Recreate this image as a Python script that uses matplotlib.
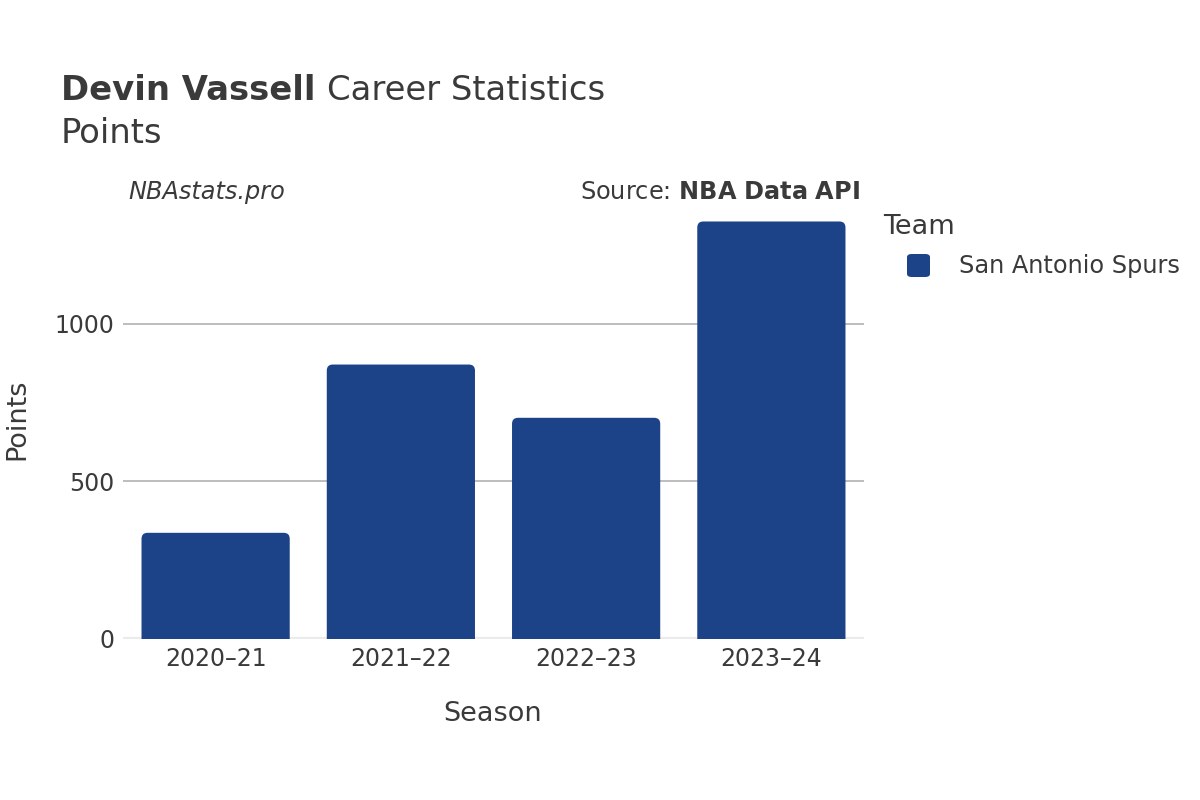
import matplotlib.pyplot as plt
from matplotlib.patches import FancyBboxPatch

plt.rcParams['font.family'] = ['DejaVu Sans']

# data
seasons = ["2020–21", "2021–22", "2022–23", "2023–24"]
points = [337, 871, 702, 1325]
team = "San Antonio Spurs"
bar_color = "#1c4288"
txt = "#3a3a3a"

W, H = 1200, 800
fig = plt.figure(figsize=(12, 8), dpi=100)
ax = fig.add_axes([123 / W, 1 - 639 / H, 741 / W, 438 / H])

bars = ax.bar(range(len(seasons)), points, width=0.8, color=bar_color)

# swap plain bars for ones with rounded tops
ymax = 1390
px_x = 741 / 4.0        # pixels per x unit
px_y = 438 / ymax       # pixels per y unit
r = 6 / px_x
for b in bars:
    x0, w, h = b.get_x(), b.get_width(), b.get_height()
    b.set_visible(False)
    fb = FancyBboxPatch((x0, -20), w, h + 20,
                        boxstyle="round,pad=0,rounding_size=%f" % r,
                        mutation_aspect=px_x / px_y,
                        fc=bar_color, ec="none", zorder=2)
    ax.add_patch(fb)

ax.set_xlim(-0.5, len(seasons) - 0.5)
ax.set_ylim(0, ymax)
ax.set_xticks(range(len(seasons)))
ax.set_xticklabels(seasons)
ax.set_yticks([0, 500, 1000])
ax.set_yticklabels(["0", "500", "1000"])
ax.tick_params(length=0, labelsize=17, colors=txt)
ax.tick_params(axis="x", pad=6)
ax.tick_params(axis="y", pad=6)
for s in ax.spines.values():
    s.set_visible(False)
ax.grid(axis="y", color="#b8b8b8", lw=1.3, zorder=0)
ax.set_axisbelow(True)
ax.axhline(0, color="#ebebeb", lw=3, zorder=1)

# axis titles
fig.text(493 / W, 1 - 721 / H, "Season", fontsize=19.5, color=txt,
         ha="center", va="baseline")
fig.text(17 / W, 1 - 419 / H, "Points", fontsize=19.5, color=txt,
         ha="center", va="center", rotation=90)

# titles
t1 = fig.text(61 / W, 1 - 100 / H, "Devin Vassell", fontsize=24.4, fontweight="bold",
              color=txt, va="baseline")
fig.canvas.draw()
bb = t1.get_window_extent()
fig.text((bb.x1 + 12) / W, 1 - 100 / H, "Career Statistics", fontsize=24.4,
         color=txt, va="baseline")
fig.text(61 / W, 1 - 143 / H, "Points", fontsize=24.4, color=txt, va="baseline")

fig.text(128 / W, 1 - 192 / H, "NBAstats.pro", fontsize=17.3, style="italic",
         color=txt, va="center")
fig.text(860 / W, 1 - 192 / H, r"Source: $\bf{NBA\ Data\ API}$", fontsize=17.3,
         color=txt, va="center", ha="right")

# legend
fig.text(883 / W, 1 - 227 / H, "Team", fontsize=19.5, color=txt, va="center")
leg_box = FancyBboxPatch((907 / W, 1 - 277 / H), 23 / W, 23 / H,
                         boxstyle="round,pad=0,rounding_size=0.004",
                         transform=fig.transFigure, fc=bar_color, ec="none")
fig.patches.append(leg_box)
fig.text(959 / W, 1 - 266 / H, team, fontsize=17.3, color=txt, va="center")

fig.savefig("out.png", dpi=100)
